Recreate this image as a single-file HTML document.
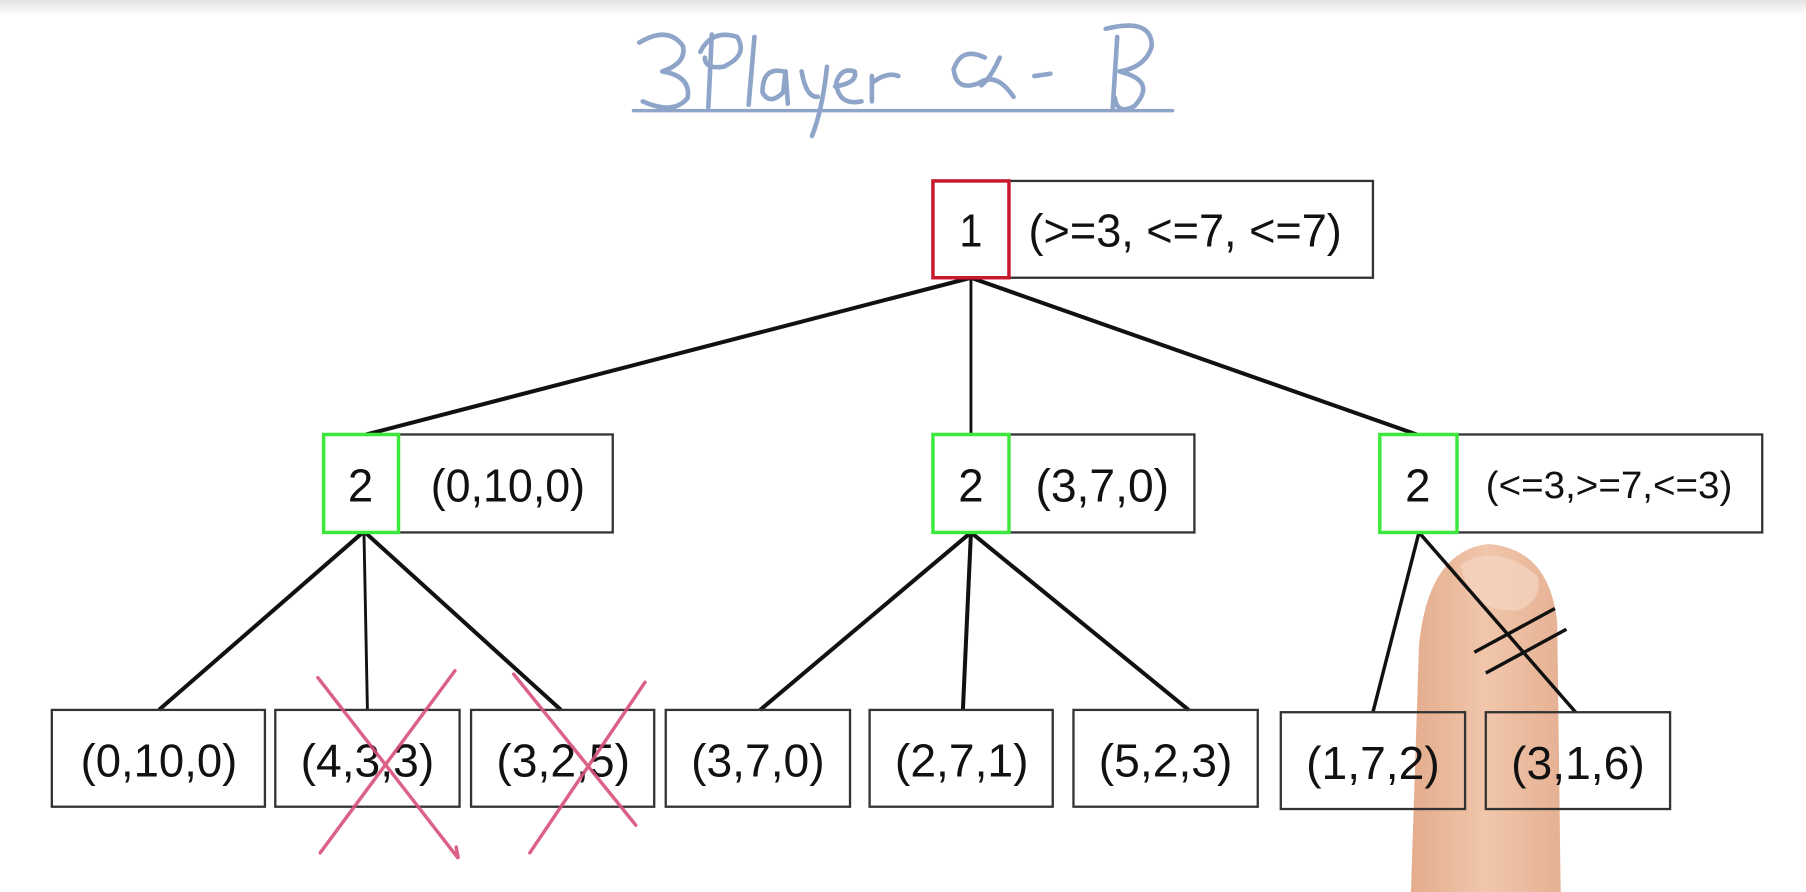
<!DOCTYPE html>
<html><head><meta charset="utf-8"><style>
html,body{margin:0;padding:0;background:#fff;overflow:hidden}
svg{display:block}
text{font-family:"Liberation Sans",sans-serif;fill:#111}
</style></head><body>
<svg width="1806" height="892" viewBox="0 0 1568 774" preserveAspectRatio="none" xmlns="http://www.w3.org/2000/svg">
<defs><linearGradient id="tb" x1="0" y1="0" x2="0" y2="1"><stop offset="0" stop-color="#e4e4e4"/><stop offset="1" stop-color="#fff"/></linearGradient>
<linearGradient id="fg" x1="0" y1="0" x2="1" y2="0"><stop offset="0" stop-color="#e2a887"/><stop offset="0.5" stop-color="#f0c3a6"/><stop offset="1" stop-color="#e4ad8e"/></linearGradient></defs>
<rect x="0" y="0" width="1568" height="14" fill="url(#tb)"/>
<!-- title -->
<g fill="none" stroke="#8ea5c9" stroke-width="4" stroke-linecap="round" stroke-linejoin="round">
<path d="M555 37 Q580 22 593 40 Q596 55 575 62 Q600 66 597 85 Q585 100 558 88"/>
<path d="M618 30 L615 93 M608 45 Q618 25 640 32 Q650 48 628 58 Q612 60 612 50"/>
<path d="M655 32 L650 91"/>
<path d="M680 62 Q662 58 662 80 Q668 92 680 80 L682 62 L684 90"/>
<path d="M696 62 Q700 85 710 84 M718 58 Q714 95 705 118"/>
<path d="M725 75 Q745 72 742 62 Q730 58 726 72 Q728 92 748 88"/>
<path d="M757 66 L757 88 M757 72 Q770 62 780 66"/>
<path d="M855 50 Q835 40 828 60 Q830 80 850 72 Q865 62 880 84 M868 50 Q860 68 852 74"/>
<path d="M898 66 L912 64"/>
<path d="M960 25 Q1000 15 1000 40 Q995 58 972 62 Q1005 70 985 92 Q970 100 968 85 M970 32 L966 95"/>
<path d="M550 96 L1018 96" stroke-width="3"/>
</g>
<!-- edges -->
<g stroke="#111" stroke-width="3.5" fill="none">
<line x1="843" y1="241" x2="318" y2="377"/>
<line x1="843" y1="241" x2="843" y2="377" stroke-width="2.5"/>
<line x1="843" y1="241" x2="1230" y2="377"/>
<line x1="315" y1="462" x2="138" y2="616"/>
<line x1="316" y1="462" x2="319" y2="616" stroke-width="2.5"/>
<line x1="317" y1="462" x2="487" y2="616"/>
<line x1="843" y1="462" x2="660" y2="616"/>
<line x1="843" y1="462" x2="836" y2="616"/>
<line x1="843" y1="462" x2="1032" y2="616"/>
</g>
<!-- finger -->
<path d="M1225 774 L1232 560 Q1240 478 1292 472 Q1345 476 1352 540 L1355 774 Z" fill="url(#fg)" opacity="0.95"/>
<path d="M1268 490 Q1300 470 1335 500 Q1340 520 1318 530 Q1290 530 1275 515 Z" fill="#f5d6c2" opacity="0.7"/>
<g stroke="#111" stroke-width="3" fill="none">
<line x1="1232" y1="462" x2="1192" y2="618"/>
<line x1="1232" y1="462" x2="1368" y2="618"/>
<line x1="1280" y1="566" x2="1350" y2="528"/>
<line x1="1290" y1="584" x2="1360" y2="546"/>
</g>
<!-- boxes -->
<g fill="none" stroke="#333" stroke-width="2">
<rect x="876" y="157" width="316" height="84"/>
<rect x="346" y="377" width="186" height="85"/>
<rect x="876" y="377" width="161" height="85"/>
<rect x="1265" y="377" width="265" height="85"/>
<rect x="45" y="616" width="185" height="84"/>
<rect x="239" y="616" width="160" height="84"/>
<rect x="409" y="616" width="159" height="84"/>
<rect x="578" y="616" width="160" height="84"/>
<rect x="755" y="616" width="159" height="84"/>
<rect x="932" y="616" width="160" height="84"/>
<rect x="1112" y="618" width="160" height="84"/>
<rect x="1290" y="618" width="160" height="84"/>
</g>
<rect x="810" y="157" width="66" height="84" fill="none" stroke="#c8182c" stroke-width="3"/>
<g fill="none" stroke="#3de83d" stroke-width="3">
<rect x="281" y="377" width="65" height="85"/>
<rect x="810" y="377" width="66" height="85"/>
<rect x="1198" y="377" width="67" height="85"/>
</g>
<g font-size="40" text-anchor="middle" lengthAdjust="spacingAndGlyphs">
<text x="843" y="214" textLength="20" lengthAdjust="spacingAndGlyphs">1</text>
<text x="1029" y="214" textLength="272" lengthAdjust="spacingAndGlyphs">(&gt;=3, &lt;=7, &lt;=7)</text>
<text x="313" y="435" textLength="22" lengthAdjust="spacingAndGlyphs">2</text>
<text x="441" y="435" textLength="134" lengthAdjust="spacingAndGlyphs">(0,10,0)</text>
<text x="843" y="435" textLength="22" lengthAdjust="spacingAndGlyphs">2</text>
<text x="957" y="435" textLength="116" lengthAdjust="spacingAndGlyphs">(3,7,0)</text>
<text x="1231" y="435" textLength="22" lengthAdjust="spacingAndGlyphs">2</text>
<text x="1397" y="432" font-size="33" textLength="214" lengthAdjust="spacingAndGlyphs">(&lt;=3,&gt;=7,&lt;=3)</text>
<text x="138" y="674" textLength="136" lengthAdjust="spacingAndGlyphs">(0,10,0)</text>
<text x="319" y="674" textLength="116" lengthAdjust="spacingAndGlyphs">(4,3,3)</text>
<text x="489" y="674" textLength="116" lengthAdjust="spacingAndGlyphs">(3,2,5)</text>
<text x="658" y="674" textLength="116" lengthAdjust="spacingAndGlyphs">(3,7,0)</text>
<text x="835" y="674" textLength="116" lengthAdjust="spacingAndGlyphs">(2,7,1)</text>
<text x="1012" y="674" textLength="116" lengthAdjust="spacingAndGlyphs">(5,2,3)</text>
<text x="1192" y="676" textLength="116" lengthAdjust="spacingAndGlyphs">(1,7,2)</text>
<text x="1370" y="676" textLength="116" lengthAdjust="spacingAndGlyphs">(3,1,6)</text>
</g>
<!-- red crosses -->
<g stroke="#d8507a" stroke-width="3" fill="none" stroke-linecap="round" opacity="0.9">
<path d="M276 588 L398 745 L396 735"/>
<path d="M395 582 L278 740"/>
<path d="M446 585 L552 716"/>
<path d="M560 592 L460 740"/>
</g>
</svg>
</body></html>
